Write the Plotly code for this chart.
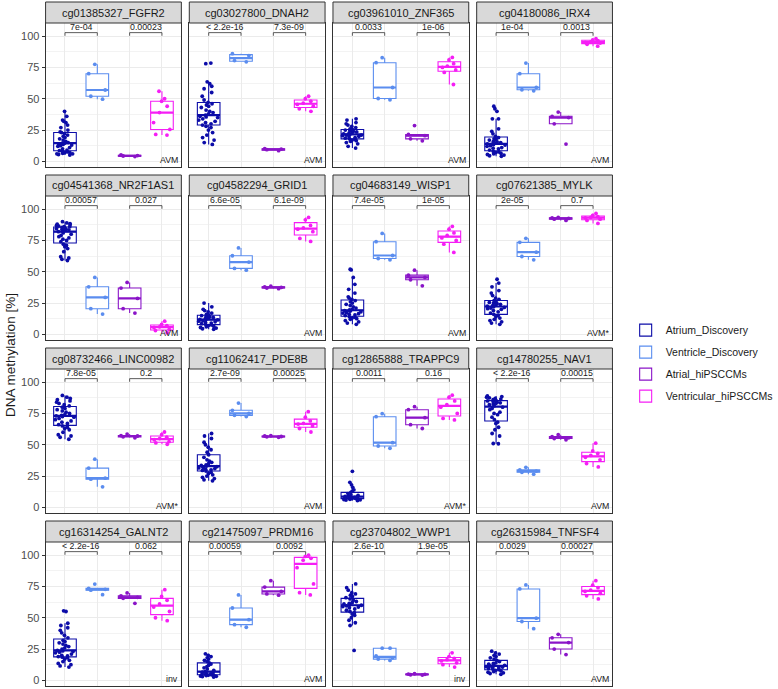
import statistics
import plotly.graph_objects as go

W, H = 778, 689

probes = ["cg01385327_FGFR2", "cg03027800_DNAH2", "cg03961010_ZNF365", "cg04180086_IRX4",
          "cg04541368_NR2F1AS1", "cg04582294_GRID1", "cg04683149_WISP1", "cg07621385_MYLK",
          "cg08732466_LINC00982", "cg11062417_PDE8B", "cg12865888_TRAPPC9", "cg14780255_NAV1",
          "cg16314254_GALNT2", "cg21475097_PRDM16", "cg23704802_WWP1", "cg26315984_TNFSF4"]

groups = ["Atrium_Discovery", "Ventricle_Discovery", "Atrial_hiPSCCMs", "Ventricular_hiPSCCMs"]
colors = ["#0c0ca8", "#5b8def", "#8a14c8", "#f51ef5"]

p_left = ["7e-04", "< 2.2e-16", "0.0033", "1e-04", "0.00057", "6.6e-05", "7.4e-05", "2e-05",
          "7.8e-05", "2.7e-09", "0.0011", "< 2.2e-16", "< 2.2e-16", "0.00059", "2.6e-10", "0.0029"]
p_right = ["0.00023", "7.3e-09", "1e-06", "0.0013", "0.027", "6.1e-09", "1e-05", "0.7",
           "0.2", "0.00025", "0.16", "0.00015", "0.062", "0.0092", "1.9e-05", "0.00027"]
corner = ["AVM", "AVM", "AVM", "AVM", "AVM", "AVM", "AVM", "AVM*",
          "AVM*", "AVM", "AVM*", "AVM", "inv", "AVM", "inv", "AVM"]

atrium = [
    [5, 5.5, 6, 6, 6.5, 7, 7, 7.5, 8, 8.5, 9, 10, 11, 12, 12.5, 13, 13.5, 14, 14.5, 14.5,
     15, 16, 17, 18, 19, 20, 21, 22, 23, 23.5, 25, 27, 29, 31, 32, 33, 36, 40],
    [13.5, 15, 17, 19, 21, 23, 25, 27, 28, 29, 30, 31, 32, 33, 34, 35, 35.5, 36, 37, 38,
     39, 40, 41, 43, 44, 45, 46, 47, 49, 52, 55, 58, 60, 62, 63.5, 78, 78.5],
    [10.6, 12, 14, 15, 16, 16.5, 17, 17.5, 18, 18.5, 19, 19.5, 20, 20.5, 21, 21, 21.5, 22,
     22.5, 23, 23.5, 24, 24.5, 25, 25.5, 26, 27, 28, 29, 30, 31, 33, 34],
    [4, 4.5, 5, 5.5, 6, 6.5, 7, 7.5, 8, 9, 10, 10.5, 11, 12, 12.5, 13, 13.5, 14, 14, 14.5,
     15, 15.5, 16, 17, 17.5, 18, 19, 20, 22, 24, 26, 34, 34, 40, 42, 44],
    [59, 60, 61, 62, 66, 68.5, 70, 71, 72, 74, 75, 76, 77, 78, 79, 80, 81, 82, 82.5, 83,
     83.5, 84, 84, 84.5, 85, 85.5, 86, 86, 86.5, 87, 87.5, 88, 88.5, 89, 90],
    [4, 4.5, 5, 5.5, 6, 6.5, 7, 7.5, 8, 8.5, 9, 9.5, 10, 10.5, 11, 11.5, 12, 12, 12.5, 13,
     13.5, 14, 14.5, 15, 15.5, 16, 17, 18, 19, 20, 22, 25],
    [8, 9, 10, 11, 12, 12.5, 13, 13.5, 14, 15, 15.5, 16, 16.5, 17, 17.5, 18, 18.5, 19, 19.5,
     20, 21, 22, 23, 24, 25, 26, 27, 28, 29, 30, 33, 36, 40, 45.5, 51.5, 52],
    [8, 9, 10, 11, 12, 13, 14, 15, 16, 17, 18, 19, 20, 20.5, 21, 21.5, 22, 22.5, 23, 23.5,
     24, 24.5, 25, 25.5, 26, 27, 28, 29, 31, 33, 35, 38, 41, 44],
    [54.4, 56, 57, 58, 60, 62, 63, 64, 65, 66, 67, 68, 69, 70, 71, 72, 72.5, 73, 73.5, 74,
     75, 76, 77, 78, 79, 80, 81, 82, 83, 84, 85, 86, 87, 88, 89.4],
    [21.2, 22, 23, 24, 25, 26, 27, 28, 29, 29.5, 30, 30.5, 31, 31.5, 32, 32.5, 33, 33.5, 34,
     35, 36, 37, 38, 40, 42, 44, 46, 48, 50, 52, 55, 57, 59],
    [5.5, 5.8, 6, 6.2, 6.5, 6.8, 7, 7.2, 7.5, 7.8, 8, 8.2, 8.5, 8.8, 9, 9.5, 10, 11, 12, 13,
     14, 16, 18, 20, 28.8],
    [50.8, 51, 57, 59, 62, 64, 67, 68, 70, 72, 74, 75, 76, 78, 79, 80, 81, 82, 82.5, 83,
     83.5, 84, 84.5, 85, 85.5, 86, 86.5, 87, 87.5, 88, 88.5, 89],
    [10.6, 11.5, 12.5, 13.5, 15, 16, 17, 18, 18.5, 19, 19.5, 20, 21, 22, 22.5, 23, 23.5, 24,
     25, 26, 27, 28, 29, 30, 31, 32, 34, 36, 38, 40, 42, 43.8, 45.6, 55, 55.5],
    [2.6, 3, 3.2, 3.5, 3.8, 4, 4.2, 4.5, 4.8, 5, 5.2, 5.5, 6, 6.5, 7, 8, 9, 10, 11, 12, 13,
     14, 15, 16, 17, 18, 19, 20, 21.2],
    [23.9, 43.8, 46, 48, 50, 52, 53, 54, 55, 56, 57, 58, 58.5, 59, 59.5, 60, 60.5, 61, 61.5,
     62, 63, 64, 65, 66, 67, 68, 69, 70, 72, 74, 77],
    [4.8, 5.5, 6, 6.5, 7, 7.5, 8, 8.5, 9, 9.5, 10, 10.3, 10.6, 11, 11.5, 12, 12.5, 13, 13.5,
     14, 15, 16, 17, 18, 19, 20, 21, 22, 23.3],
]

ventricle = [
    [49.7, 52, 57, 70, 77.5],
    [79.5, 80.5, 84.5, 86],
    [49.2, 50.2, 59, 78.8, 82.8],
    [56.3, 57.2, 59, 70, 78.5],
    [16.2, 20.5, 29.5, 38, 45.5],
    [51.3, 52.7, 57.7, 62.8, 69],
    [59.6, 60.6, 63, 74, 80.6],
    [59.5, 62.2, 65.6, 73.5, 76.7],
    [16.4, 22.5, 23.3, 31.3, 38.5],
    [72.5, 73.5, 75, 77.5, 83.3],
    [47.2, 49, 51.7, 72.4, 74.8],
    [26.5, 28, 29, 30, 32],
    [68.4, 72, 72.7, 73.5, 76.9],
    [42.4, 44.5, 48.5, 57.8, 68.2],
    [15.9, 17, 18, 19.5, 25.7, 25.7],
    [41.3, 47, 49.7, 73, 76.2],
]

atrial_ips = [
    [3.8, 4.3, 4.6, 5.2],
    [8.5, 9.3, 9.8, 10.2],
    [16.4, 18, 20.5, 21.5, 28.6],
    [13.8, 30, 35, 36, 39.4],
    [17, 20.5, 28.7, 37, 41.5],
    [36.5, 37, 37.5, 38, 38.5],
    [38.8, 43.6, 45.5, 47.3, 51.3],
    [91, 92, 92.6, 93, 93.5],
    [55.5, 56.3, 57, 57.3, 58.5],
    [56, 56.3, 56.6, 57, 57.2],
    [63, 66, 71.6, 78, 80.4],
    [54, 55, 55.5, 56.5, 58],
    [61.5, 65.5, 66.3, 67.5, 69.8],
    [68, 69, 71, 74.5, 79.6],
    [4.2, 4.5, 4.8, 5.0, 5.3],
    [20.6, 25, 30.2, 34, 36.8],
]

ventricular_ips = [
    [21, 21.5, 25.5, 31, 39, 44, 48, 50, 56],
    [40, 42, 44, 45.5, 46.5, 48, 50, 52],
    [61.4, 71, 73, 75, 76, 78, 81, 83],
    [92, 93.5, 94.5, 95, 95.5, 96.5, 97, 98],
    [1.3, 3, 4, 5.5, 6, 7, 8, 10.5],
    [74.2, 76.6, 82, 84, 85, 87, 91.5, 93.4],
    [65.4, 72, 75, 77, 79, 81, 84, 86.2],
    [88.6, 91, 92, 93, 93.5, 94, 95, 96.6],
    [50.4, 51.5, 52.5, 54, 55, 56, 58, 60.2],
    [60.2, 63, 65, 66.5, 67, 69, 72, 76.4],
    [69.8, 71, 75, 80, 82, 85, 88, 89.6],
    [32.3, 35, 38, 40, 41.5, 43, 45, 51.3],
    [47.7, 50, 55, 58.5, 61, 64, 67, 72.4],
    [68.2, 70, 77, 90, 96, 97.5, 99, 100],
    [10.6, 12.5, 14, 15.5, 16.5, 17.5, 19, 22],
    [65, 67.5, 69.5, 71, 72, 74, 76, 79.6],
]

series = [atrium, ventricle, atrial_ips, ventricular_ips]

FONT = "Liberation Sans, Arial, sans-serif"
PANEL_W, PANEL_H, STRIP_H = 137, 144, 21
X0, XGAP = 46, 145
Y0, YGAP = 23, 173
BR_LOW, BR_HIGH = 100.3, 102.8
BOX_W = 0.7

fig = go.Figure()
layout = dict(
    width=W, height=H, margin=dict(l=0, r=0, t=0, b=0),
    paper_bgcolor="white", plot_bgcolor="white",
    boxmode="overlay", showlegend=True,
    font=dict(family=FONT, color="#1a1a1a"),
    legend=dict(x=0.8115, y=0.473, xanchor="left", yanchor="middle",
                font=dict(size=10.5, color="#1a1a1a"), bgcolor="rgba(0,0,0,0)",
                tracegroupgap=3, itemwidth=30),
)
shapes, annotations = [], []

for i, probe in enumerate(probes):
    r, c = divmod(i, 4)
    ax = "" if i == 0 else str(i + 1)
    left = X0 + c * XGAP
    right = left + PANEL_W
    top = Y0 + r * YGAP
    bottom = top + PANEL_H
    layout["xaxis" + ax] = dict(
        domain=[left / W, right / W], anchor="y" + ax, type="category",
        categoryorder="array", categoryarray=groups, range=[-0.6, 3.6],
        showticklabels=False, ticks="", showgrid=True, gridcolor="#ebebeb", gridwidth=1,
        showline=True, mirror=True, linecolor="#333333", linewidth=1, zeroline=False,
    )
    layout["yaxis" + ax] = dict(
        domain=[1 - bottom / H, 1 - top / H], anchor="x" + ax, range=[-4.5, 110.5],
        tick0=0, dtick=25, showticklabels=(c == 0), ticks="outside" if c == 0 else "",
        ticklen=3, tickcolor="#333333", tickfont=dict(size=11, color="#4d4d4d"),
        showgrid=True, gridcolor="#ebebeb", gridwidth=1, zeroline=False,
        minor=dict(tick0=12.5, dtick=25, showgrid=True, gridcolor="#f3f3f3", gridwidth=0.6),
        showline=True, mirror=True, linecolor="#333333", linewidth=1,
    )
    # strip
    shapes.append(dict(type="rect", xref="paper", yref="paper",
                       x0=left / W, x1=right / W, y0=1 - top / H, y1=1 - (top - STRIP_H) / H,
                       fillcolor="#d9d9d9", line=dict(color="#333333", width=1), layer="above"))
    annotations.append(dict(text=probe, xref="paper", yref="paper",
                            x=(left + right) / 2 / W, y=1 - (top - STRIP_H / 2) / H,
                            showarrow=False, xanchor="center", yanchor="middle",
                            font=dict(size=11, color="#1a1a1a")))
    for g in range(4):
        vals = series[g][i]
        fig.add_trace(go.Box(
            x=[groups[g]] * len(vals), y=vals, name=groups[g], legendgroup=groups[g],
            showlegend=(i == 0), xaxis="x" + ax, yaxis="y" + ax,
            boxpoints="all", jitter=0.9, pointpos=0, width=BOX_W, whiskerwidth=0,
            quartilemethod="inclusive",
            line=dict(color=colors[g], width=1.1), fillcolor="white",
            marker=dict(color=colors[g], size=3.8, line=dict(width=0)),
        ))
        # thicker median bar (ggplot style), derived from the data
        med = statistics.median(vals)
        shapes.append(dict(type="line", xref="x" + ax, yref="y" + ax, layer="above",
                           x0=g - BOX_W / 2, x1=g + BOX_W / 2, y0=med, y1=med,
                           line=dict(color=colors[g], width=2.2)))
    # significance brackets
    for (a, b), lab in (((0, 1), p_left[i]), ((2, 3), p_right[i])):
        for (xa, ya, xb, yb) in ((a, BR_LOW, a, BR_HIGH), (a, BR_HIGH, b, BR_HIGH),
                                 (b, BR_HIGH, b, BR_LOW)):
            shapes.append(dict(type="line", xref="x" + ax, yref="y" + ax,
                               x0=xa, y0=ya, x1=xb, y1=yb,
                               line=dict(color="#333333", width=0.8)))
        annotations.append(dict(text=lab.replace("<", "&lt;"), xref="x" + ax, yref="y" + ax,
                                x=(a + b) / 2, y=BR_HIGH - 0.6, showarrow=False,
                                xanchor="center", yanchor="bottom", borderpad=0,
                                font=dict(size=8.8, color="#1a1a1a")))
    annotations.append(dict(text=corner[i], xref="x" + ax + " domain", yref="y" + ax,
                            x=0.985, y=0.8, showarrow=False, xanchor="right",
                            yanchor="middle", borderpad=0,
                            font=dict(size=8.8, color="#1a1a1a")))

annotations.append(dict(text="DNA methylation [%]", xref="paper", yref="paper",
                        x=10 / W, y=1 - 355 / H, showarrow=False, textangle=-90,
                        xanchor="center", yanchor="middle",
                        font=dict(size=13.5, color="#1a1a1a")))

layout["shapes"] = shapes
layout["annotations"] = annotations
fig.update_layout(**layout)
fig.write_html(
    "out.html",
    config={"displayModeBar": False},
    post_script="document.body.style.margin='0';document.body.style.padding='0';"
                "document.body.style.overflow='hidden';",
)
